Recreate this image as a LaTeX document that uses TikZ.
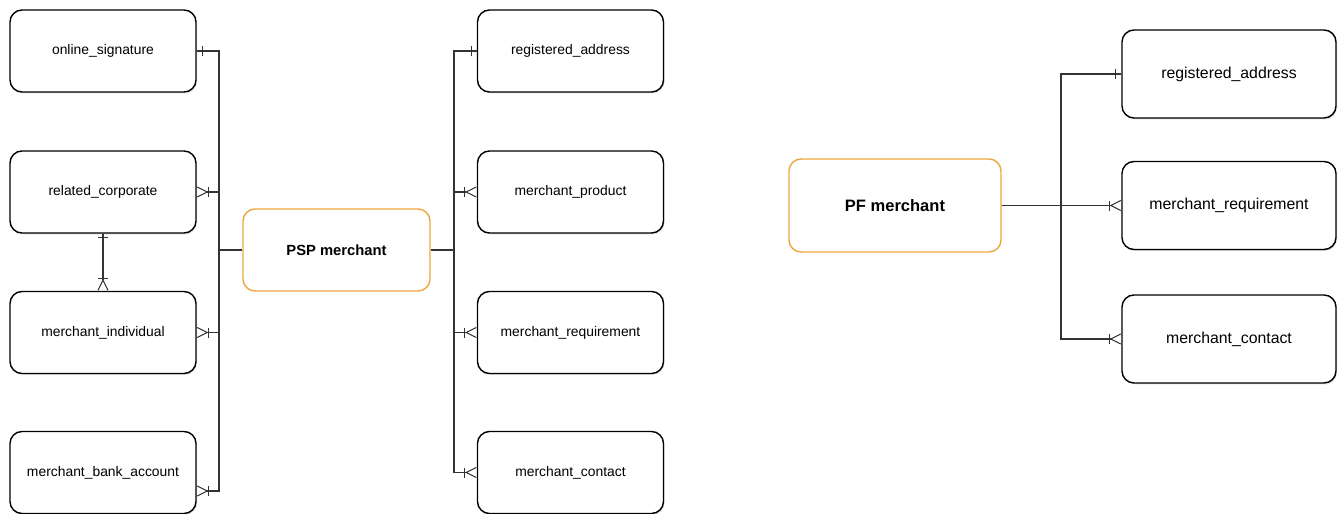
\documentclass[tikz,border=0pt]{standalone}
\usepackage{fontspec}
\setmainfont{Liberation Sans}
\usetikzlibrary{
   arrows.meta,
   shadows,
   positioning
}
\definecolor{boxorange}{RGB}{236,168,64}

\begin{document}
\begin{tikzpicture}[
    entity/.style={rectangle, rounded corners=2.4mm, draw, line width=0.8pt, fill=white,
        minimum width=37.2mm, minimum height=16.4mm, align=center, font=\fontsize{7.9}{9}\selectfont,
        drop shadow={opacity=0.25, shadow xshift=0.6pt, shadow yshift=-0.8pt}},
    bigentity/.style={entity, minimum width=42.8mm, minimum height=17.6mm, font=\fontsize{9}{11}\selectfont},
    mainentity/.style={rectangle, rounded corners=2.4mm, draw=boxorange, line width=0.8pt, fill=white,
        minimum width=37.4mm, minimum height=16.4mm, font=\bfseries\fontsize{8.4}{10}\selectfont},
    link/.style={line width=0.6pt, draw=black!80},
    onemark/.style={link, -{Bar[width=2mm,sep=0pt]Rectangle[length=1mm,width=0.6pt,line width=0pt]}},
    manymark/.style={link, -{Bar[width=2mm,sep=0pt]Straight Barb[reversed,length=2mm,width=2mm]}}
]
\useasboundingbox (0,0) rectangle (26.78,-10.28);

% PSP merchant
\node[mainentity] (psp) at (6.73,-5.0) {PSP merchant};

\node[entity] (os) at (2.06,-1.02) {online\_signature};
\node[entity] (rc) at (2.06,-3.84) {related\_corporate};
\node[entity] (mi) at (2.06,-6.65) {merchant\_individual};
\node[entity] (mba) at (2.06,-9.45) {merchant\_bank\_account};

\node[entity] (ra) at (11.41,-1.02) {registered\_address};
\node[entity] (mp) at (11.41,-3.84) {merchant\_product};
\node[entity] (mr) at (11.41,-6.65) {merchant\_requirement};
\node[entity] (mc) at (11.41,-9.45) {merchant\_contact};

\coordinate (lbus) at (4.38,-5.0);
\coordinate (rbus) at (9.08,-5.0);

\draw[onemark] (psp.west) -| (lbus) |- (os.east);
\draw[manymark] (psp.west) -| (lbus) |- (rc.east);
\draw[manymark] (psp.west) -| (lbus) |- (mi.east);
\draw[manymark] (psp.west) -| (lbus) |- ([yshift=-3.7mm]mba.east);
\draw[link, {Rectangle[length=0.7mm,width=0.6pt,line width=0pt]Bar[width=2mm,sep=0pt]}-{Bar[width=2mm,sep=0pt]Straight Barb[reversed,length=2mm,width=2mm]}]
    (rc.south) -- (mi.north);

\draw[onemark] (psp.east) -| (rbus) |- (ra.west);
\draw[manymark] (psp.east) -| (rbus) |- (mp.west);
\draw[manymark] (psp.east) -| (rbus) |- (mr.west);
\draw[manymark] (psp.east) -| (rbus) |- (mc.west);

% PF merchant
\node[mainentity, minimum width=42.4mm, minimum height=18.6mm, font=\bfseries\fontsize{9.4}{11}\selectfont]
    (pf) at (17.9,-4.11) {PF merchant};

\node[bigentity] (pfra) at (24.58,-1.48) {registered\_address};
\node[bigentity] (pfmr) at (24.58,-4.11) {merchant\_requirement};
\node[bigentity] (pfmc) at (24.58,-6.78) {merchant\_contact};

\coordinate (pfbus) at (21.22,-4.11);

\draw[onemark] (pf.east) -| (pfbus) |- (pfra.west);
\draw[manymark] (pf.east) -- (pfmr.west);
\draw[manymark] (pf.east) -| (pfbus) |- (pfmc.west);

\end{tikzpicture}
\end{document}
